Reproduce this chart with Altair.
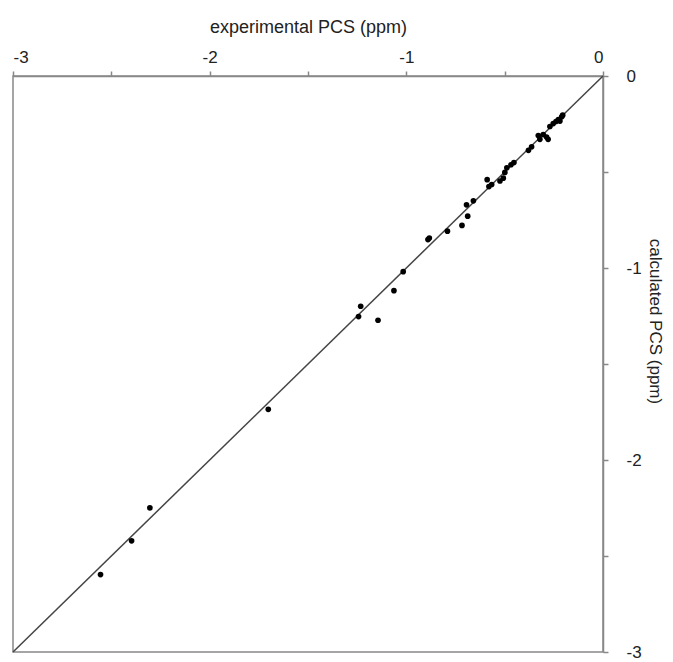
import altair as alt
import pandas as pd

experimental = [-2.555, -2.397, -2.304, -1.702, -1.243, -1.232, -1.144, -1.063, -1.016,
                -0.890, -0.883, -0.791, -0.717, -0.688, -0.694, -0.659, -0.589, -0.580,
                -0.566, -0.524, -0.507, -0.499, -0.489, -0.468, -0.453, -0.379, -0.363,
                -0.329, -0.321, -0.304, -0.287, -0.279, -0.270, -0.253, -0.239, -0.227,
                -0.219, -0.210, -0.205]
calculated = [-2.597, -2.421, -2.249, -1.736, -1.253, -1.199, -1.272, -1.118, -1.019,
              -0.852, -0.844, -0.808, -0.778, -0.730, -0.671, -0.650, -0.540, -0.576,
              -0.565, -0.547, -0.532, -0.502, -0.478, -0.462, -0.451, -0.387, -0.369,
              -0.310, -0.330, -0.305, -0.318, -0.330, -0.263, -0.248, -0.237, -0.227,
              -0.235, -0.212, -0.204]
line_x = [-3, 0]
line_y = [-3, 0]
tick_values = [-3, -2.5, -2, -1.5, -1, -0.5, 0]

pts = pd.DataFrame({"exp": experimental, "calc": calculated})
diag = pd.DataFrame({"exp": line_x, "calc": line_y})

xscale = alt.Scale(domain=[-3, 0], nice=False, zero=False)
yscale = alt.Scale(domain=[-3, 0], nice=False, zero=False)

label_expr = "datum.value % 1 == 0 ? '' + datum.value : ''"

xaxis = alt.Axis(orient="top", values=tick_values, labelExpr=label_expr,
                 grid=False, tickSize=5, labelPadding=5, titlePadding=12,
                 title="experimental PCS (ppm)")
yaxis = alt.Axis(orient="right", values=tick_values, labelExpr=label_expr,
                 grid=False, tickSize=5, labelPadding=18, labelAlign="left",
                 titleX=51, titleY=245, titleAngle=90, titleAlign="center",
                 titleBaseline="middle", titleFontSize=17, title="calculated PCS (ppm)")

line = alt.Chart(diag).mark_line(color="#444444", strokeWidth=1.5).encode(
    x=alt.X("exp:Q", scale=xscale, axis=xaxis),
    y=alt.Y("calc:Q", scale=yscale, axis=yaxis),
)
points = alt.Chart(pts).mark_circle(color="black", opacity=1, size=32).encode(
    x=alt.X("exp:Q", scale=xscale),
    y=alt.Y("calc:Q", scale=yscale),
)

chart = alt.layer(line, points).properties(
    width=590, height=576,
    autosize=alt.AutoSizeParams(type="none"),
    padding={"left": 5, "top": 68, "right": 62, "bottom": 12},
).configure_view(
    stroke="#888888", strokeWidth=1.5
).configure_axis(
    domainColor="#888888", domainWidth=1.5, tickColor="#888888", tickWidth=1.5,
    labelFont="Liberation Sans", titleFont="Liberation Sans",
    labelFontSize=17, titleFontSize=18, labelColor="#222222", titleColor="#222222",
    titleFontWeight="normal"
)

chart.save("out.html", embed_options={"renderer": "svg", "actions": False})
